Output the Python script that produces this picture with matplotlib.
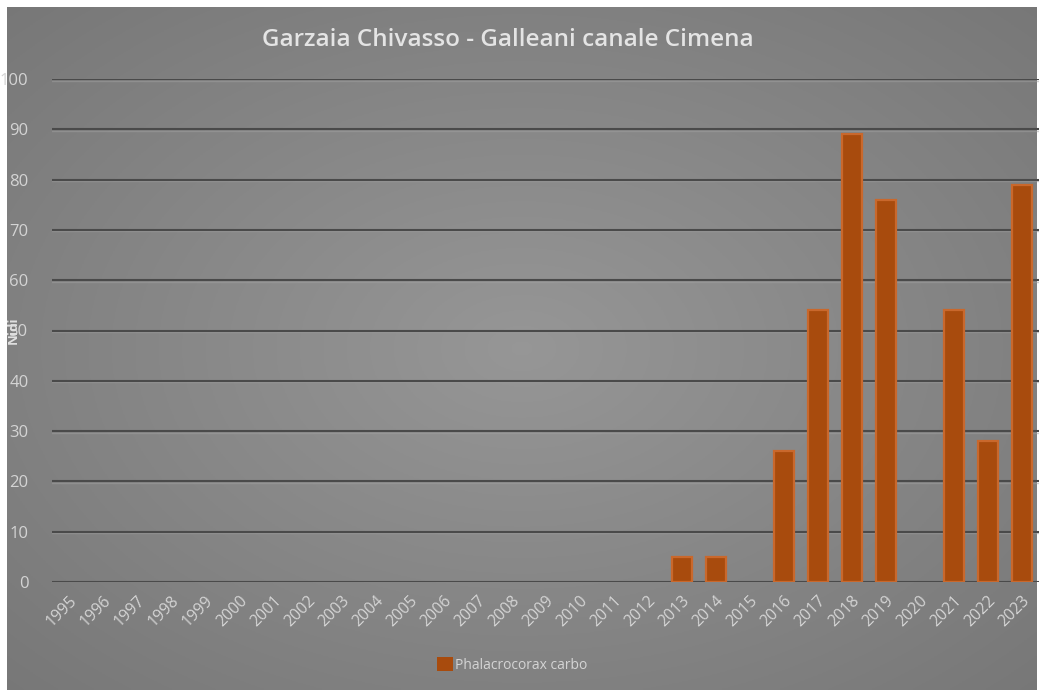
import matplotlib
matplotlib.use("Agg")
import matplotlib.pyplot as plt
import numpy as np

plt.rcParams["font.family"] = ["Open Sans", "DejaVu Sans"]

# data
years = [str(y) for y in range(1995, 2024)]
nidi = [0, 0, 0, 0, 0, 0, 0, 0, 0, 0, 0, 0, 0, 0, 0, 0, 0, 0,
        5, 5, 0, 26, 54, 89, 76, 0, 54, 28, 79]
y_ticks = [0, 10, 20, 30, 40, 50, 60, 70, 80, 90, 100]

W, H = 1040, 693
fig = plt.figure(figsize=(W / 100, H / 100), dpi=100, facecolor="white")

# gray panel with a soft radial gradient (Excel style)
bg = fig.add_axes([7 / W, 3 / H, 1030 / W, 683 / H])
gx, gy = np.meshgrid(np.linspace(-1, 1, 400), np.linspace(-1, 1, 300))
r = np.sqrt(gx ** 2 + gy ** 2)
shade = 0.59 - 0.12 * np.clip(r, 0, 1.4) / 1.4
bg.imshow(np.dstack([shade, shade, shade]), aspect="auto", extent=[0, 1, 0, 1])
bg.set_axis_off()

# main plot area
ax = fig.add_axes([52 / W, (H - 582) / H, (1039 - 52) / W, (582 - 79) / H])
ax.patch.set_alpha(0)
x = np.arange(len(years))

for t in y_ticks:
    ax.axhline(t - 0.3, color="#a0a0a0", lw=1.0, zorder=1, alpha=0.5)
    ax.axhline(t, color="#4a4a4a", lw=1.5, zorder=1)

edges = ["#c9682c" if v > 0 else "none" for v in nidi]
ax.bar(x, nidi, width=0.58, color="#a84b0d", edgecolor=edges,
       linewidth=1.6, zorder=3, label="Phalacrocorax carbo")

ax.set_xlim(-0.5, len(years) - 0.5)
ax.set_ylim(0, 100)
ax.set_yticks(y_ticks)
ax.set_xticks(x)
ax.set_xticklabels(years, rotation=45, ha="right", rotation_mode="anchor")
ax.tick_params(axis="both", length=0, colors="#d4d4d4")
ax.tick_params(axis="y", pad=17, labelsize=12)
ax.tick_params(axis="x", pad=8, labelsize=11.5)
for s in ax.spines.values():
    s.set_visible(False)

fig.text(13 / W, 1 - 330 / H, "Nidi", rotation=90, ha="center", va="center",
         color="#e0e0e0", fontsize=9.5, fontweight="bold")

fig.text(508 / W, 1 - 40 / H, "Garzaia Chivasso - Galleani canale Cimena",
         ha="center", va="center", color="#e4e4e4", fontsize=17.5,
         fontweight="semibold")

leg = fig.legend(loc="center", bbox_to_anchor=(512 / W, 1 - 665 / H),
                 frameon=False, fontsize=10, handlelength=1.2,
                 handleheight=1.2, handletextpad=0.15)
for txt in leg.get_texts():
    txt.set_color("#d4d4d4")

fig.savefig("out.png", dpi=100, facecolor="white")
